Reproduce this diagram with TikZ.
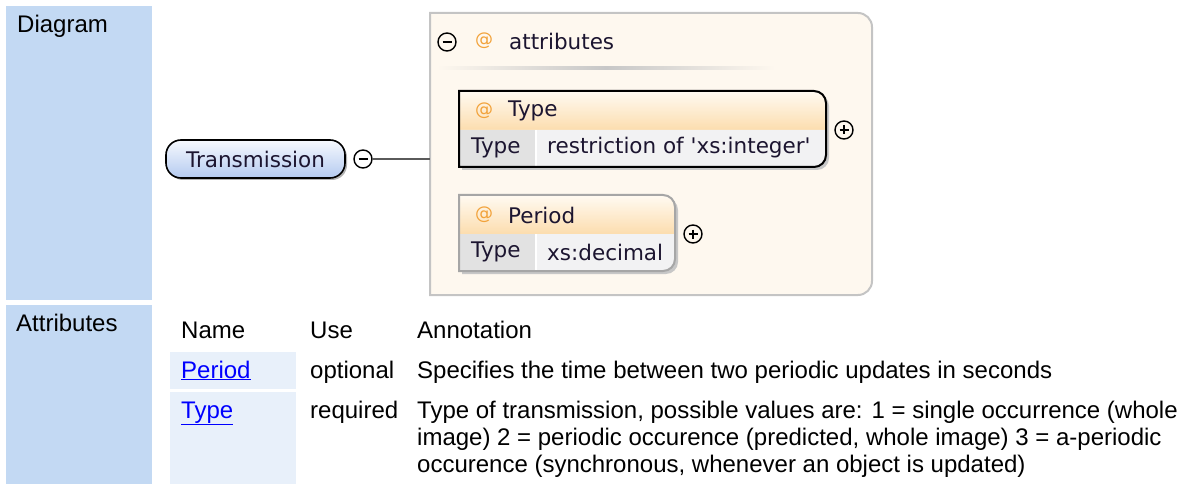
\documentclass[tikz,border=0pt]{standalone}
\usepackage{fontspec}
\setmainfont{Liberation Sans}
\newfontfamily\diagfont{DejaVu Sans}
\usepackage{tikz}
\usetikzlibrary{positioning,shadows}
\definecolor{lblblue}{HTML}{C3D9F3}
\definecolor{cellblue}{HTML}{E8F0FA}
\definecolor{linkblue}{HTML}{0000FF}
\definecolor{grpfill}{HTML}{FEF8EF}
\definecolor{grpline}{HTML}{C4C4C4}
\definecolor{headtop}{HTML}{FFFAF2}
\definecolor{headbot}{HTML}{FCDDAE}
\definecolor{rowkey}{HTML}{E2E2E2}
\definecolor{rowval}{HTML}{F2F2F3}
\definecolor{atsign}{HTML}{F2A23A}
\definecolor{pilltop}{HTML}{F6F9FE}
\definecolor{pillbot}{HTML}{B4CAF0}
\definecolor{diagink}{HTML}{1C1530}
\definecolor{wire}{HTML}{5A5A5A}

\begin{document}
\begin{tikzpicture}[x=1pt,y=-1pt,
  tab/.style={anchor=base west,inner sep=0pt,font=\fontsize{24}{27}\selectfont},
  link/.style={tab,text=linkblue},
  dia/.style={inner sep=0pt,text=diagink,font=\diagfont\fontsize{21.5}{24}\selectfont},
  atmark/.style={inner sep=0pt,text=atsign,font=\diagfont\fontsize{18}{20}\selectfont},
  knob/.style={circle,draw=black,line width=1.4pt,minimum size=18pt,inner sep=0pt},
  collapse/.style={knob,path picture={\draw[line width=1.4pt] ([xshift=4.5pt]path picture bounding box.west) -- ([xshift=-4.5pt]path picture bounding box.east);}},
  expand/.style={knob,path picture={
    \draw[line width=1.4pt] ([xshift=4.5pt]path picture bounding box.west) -- ([xshift=-4.5pt]path picture bounding box.east);
    \draw[line width=1.4pt] ([yshift=-4.5pt]path picture bounding box.north) -- ([yshift=4.5pt]path picture bounding box.south);}},
  pill/.style={dia,draw=black,line width=1.6pt,rounded corners=15pt,top color=pilltop,bottom color=pillbot,
    minimum width=179pt,minimum height=38pt,drop shadow={shadow xshift=2pt,shadow yshift=-2pt,opacity=0.3,fill=black}}]
  \useasboundingbox (0,0) rectangle (1184,484);
  % label column
  \fill[lblblue] (6,6) rectangle (152,300);
  \fill[lblblue] (6,305) rectangle (152,484);
  \node[tab] (diaglab) at (17,33) {Diagram};
  \node[tab] (attrlab) at (16,331) {Attributes};

  % element and its attribute group
  \node[pill] (trans) at (255.5,159) {Transmission};
  \node[collapse] (tcoll) at (363,159) {};
  \coordinate (grpw) at (430,159);
  \draw[grpline,line width=2pt,fill=grpfill] (430,13) -- (858,13) arc(-90:0:14) -- (872,281) arc(0:90:14) -- (430,295) -- cycle;
  \draw[wire,line width=2pt] (tcoll) -- (grpw);
  \node[collapse] (gcoll) at (447,42) {};
  \node[atmark] (gat) at (484,41) {@};
  \node[dia,anchor=west] (glab) at (509,41) {attributes};
  \shade[left color=grpfill,right color=grpfill,middle color=black!22] (437,67) rectangle (775,70);

  \foreach \nm/\yt/\xr/\val/\edge in {Type/91/826/{restriction of 'xs:integer'}/black, Period/195/675/{xs:decimal}/black!35}
  {
    \pgfmathsetmacro{\ym}{\yt+39}
    \pgfmathsetmacro{\yb}{\yt+76}
    \fill[black!22] (462,\yt+3) -- (\xr-9,\yt+3) arc(-90:0:12) -- (\xr+3,\yb-9) arc(0:90:12) -- (462,\yb+3) -- cycle;
    \shade[top color=headtop,bottom color=headbot] (459,\yt) -- (\xr-12,\yt) arc(-90:0:12) -- (\xr,\ym) -- (459,\ym) -- cycle;
    \fill[rowval] (459,\ym) -- (\xr,\ym) -- (\xr,\yb-12) arc(0:90:12) -- (459,\yb) -- cycle;
    \fill[rowkey] (459,\ym) rectangle (535,\yb);
    \draw[white,line width=1.5pt] (536,\ym) -- (536,\yb);
    \draw[\edge,line width=2pt] (459,\yt) -- (\xr-12,\yt) arc(-90:0:12) -- (\xr,\yb-12) arc(0:90:12) -- (459,\yb) -- cycle;
    \node[atmark] (\nm-at) at (484,\yt+20) {@};
    \node[dia,anchor=west] (\nm-name) at (508,\yt+20) {\nm};
    \node[dia,anchor=west] (\nm-key) at (471,\ym+18) {Type};
    \node[dia,anchor=west] (\nm-val) at (547,\ym+18) {\val};
    \node[expand] (\nm-exp) at (\xr+18,\ym) {};
  }

  % attribute table
  \foreach \x/\lab in {181/Name,310/Use,417/Annotation}
    \node[tab] (head-\lab) at (\x,338) {\lab};
  \fill[cellblue] (170,352) rectangle (296,389);
  \fill[cellblue] (170,392) rectangle (296,484);
  \node[link] (lnk-period) at (181,378) {\underline{Period}};
  \node[tab] (use-period) at (310,378) {optional};
  \node[tab] (ann-period) at (417,378) {Specifies the time between two periodic updates in seconds};
  \node[link] (lnk-type) at (181,418) {\underline{Type}};
  \node[tab] (use-type) at (310,418) {required};
  \foreach \i/\ln in {0/{Type of transmission, possible values are: 1 = single occurrence (whole},
      1/{image) 2 = periodic occurence (predicted, whole image) 3 = a-periodic},
      2/{occurence (synchronous, whenever an object is updated)}}
    \node[tab] (ann-type-\i) at (417,418+27*\i) {\ln};
\end{tikzpicture}
\end{document}
